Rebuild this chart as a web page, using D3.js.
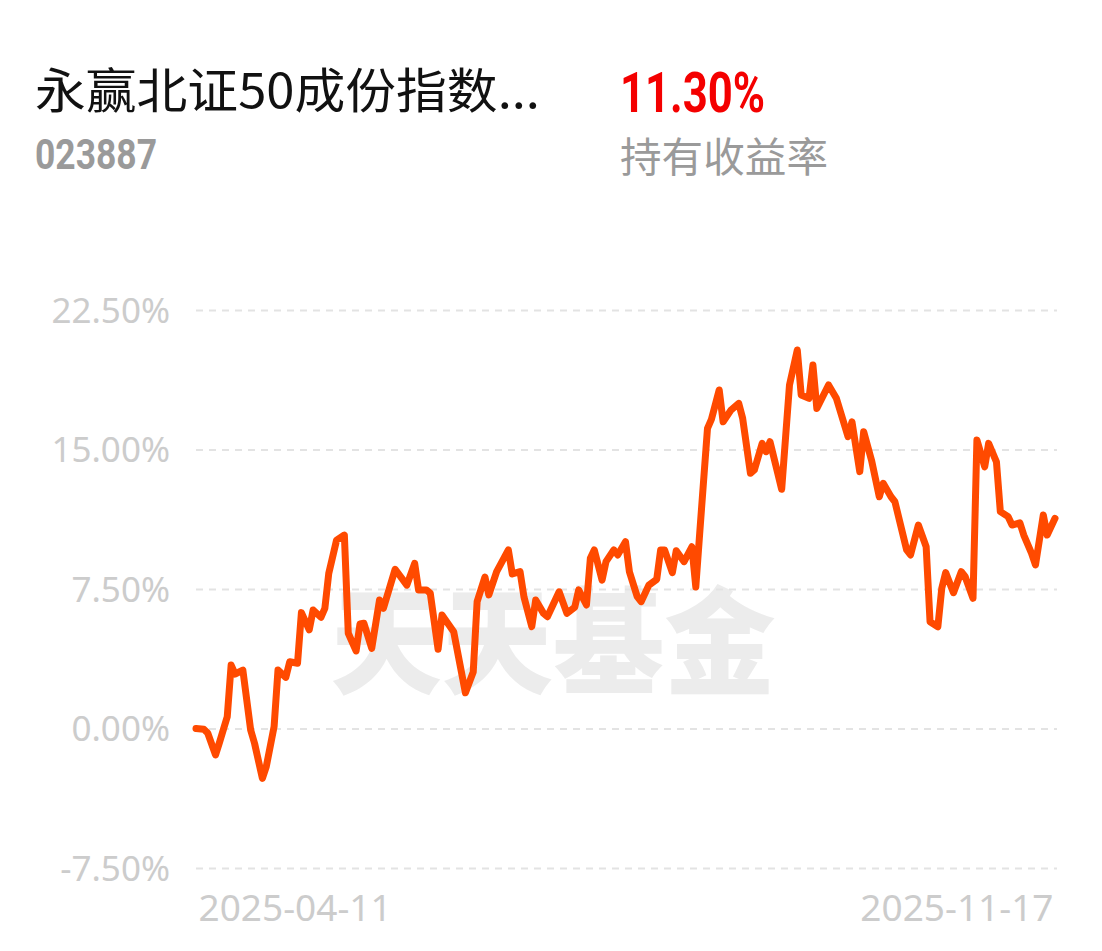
<!DOCTYPE html>
<html>
<head>
<meta charset="utf-8">
<script src="https://cdn.jsdelivr.net/npm/d3@7/dist/d3.min.js"></script>
<style>
  html, body { margin: 0; padding: 0; background: #ffffff; }
  svg { display: block; }
</style>
</head>
<body>
<div id="chart"></div>
<script>
// ---- data ----
const fundName = "永赢北证50成份指数...";
const fundCode = "023887";
const holdReturn = "11.30%";
const holdReturnLabel = "持有收益率";
const watermark = "天天基金";

const dates = [
  "2025-04-11","2025-04-13","2025-04-14","2025-04-16","2025-04-17","2025-04-19","2025-04-20","2025-04-21","2025-04-23","2025-04-25",
  "2025-04-26","2025-04-28","2025-04-29","2025-05-01","2025-05-02","2025-05-04","2025-05-05","2025-05-07","2025-05-08","2025-05-10",
  "2025-05-11","2025-05-13","2025-05-14","2025-05-15","2025-05-17","2025-05-19","2025-05-20","2025-05-22","2025-05-23","2025-05-24",
  "2025-05-26","2025-05-28","2025-05-29","2025-06-01","2025-06-04","2025-06-06","2025-06-07","2025-06-09","2025-06-10","2025-06-12",
  "2025-06-13","2025-06-16","2025-06-19","2025-06-21","2025-06-22","2025-06-24","2025-06-25","2025-06-27","2025-06-30","2025-07-01",
  "2025-07-03","2025-07-04","2025-07-06","2025-07-07","2025-07-09","2025-07-10","2025-07-13","2025-07-15","2025-07-17","2025-07-18",
  "2025-07-20","2025-07-21","2025-07-22","2025-07-24","2025-07-25","2025-07-27","2025-07-28","2025-07-30","2025-07-31","2025-08-02",
  "2025-08-03","2025-08-05","2025-08-07","2025-08-08","2025-08-09","2025-08-11","2025-08-12","2025-08-14","2025-08-16","2025-08-17",
  "2025-08-18","2025-08-20","2025-08-21","2025-08-23","2025-08-24","2025-08-26","2025-08-28","2025-08-29","2025-08-31","2025-09-01",
  "2025-09-03","2025-09-04","2025-09-05","2025-09-07","2025-09-08","2025-09-10","2025-09-12","2025-09-13","2025-09-15","2025-09-16",
  "2025-09-17","2025-09-20","2025-09-22","2025-09-25","2025-09-26","2025-09-28","2025-09-29","2025-10-01","2025-10-03","2025-10-04",
  "2025-10-06","2025-10-07","2025-10-10","2025-10-11","2025-10-13","2025-10-15","2025-10-16","2025-10-18","2025-10-19","2025-10-20",
  "2025-10-22","2025-10-24","2025-10-25","2025-10-27","2025-10-28","2025-10-30","2025-10-31","2025-11-02","2025-11-03","2025-11-05",
  "2025-11-06","2025-11-08","2025-11-09","2025-11-11","2025-11-12","2025-11-14","2025-11-15","2025-11-17"
];
const returns = [
  0.00,-0.04,-0.24,-1.42,-0.76,0.63,3.41,2.93,3.14,-0.08,
  -0.80,-2.68,-2.05,0.10,3.14,2.75,3.59,3.51,6.23,5.30,
  6.37,5.98,6.46,8.34,10.13,10.40,5.12,4.17,5.62,5.66,
  4.31,6.91,6.46,8.56,7.71,8.88,7.45,7.45,7.27,4.26,
  6.10,5.20,1.92,3.04,6.82,8.14,7.18,8.43,9.60,8.31,
  8.43,7.07,5.48,6.91,6.19,6.01,7.35,6.19,6.52,7.45,
  6.64,9.15,9.60,7.98,8.97,9.60,9.33,10.04,8.43,7.09,
  6.82,7.71,8.02,9.60,9.60,8.38,9.56,8.97,9.77,7.61,
  10.49,16.14,16.62,18.20,16.49,17.12,17.48,16.68,13.72,13.90,
  15.33,14.88,15.42,13.72,12.86,18.47,20.35,17.93,17.75,19.54,
  17.21,18.47,17.75,15.69,16.49,13.81,15.96,14.43,12.46,13.18,
  12.46,12.19,9.60,9.33,10.94,9.77,5.74,5.47,7.54,8.38,
  7.30,8.43,8.16,7.00,15.51,14.07,15.33,14.34,11.66,11.39,
  10.94,11.06,10.40,9.42,8.79,11.48,10.40,11.30
];
const yTicks = [-7.5, 0, 7.5, 15, 22.5];
const xTickLabels = ["2025-04-11", "2025-11-17"];

// ---- drawing ----
const W = 1102, H = 951;
const svg = d3.select("#chart").append("svg").attr("width", W).attr("height", H);

const parse = d3.timeParse("%Y-%m-%d");
const series = dates.map((d, i) => ({ date: parse(d), value: returns[i] }));

const x = d3.scaleTime()
  .domain(d3.extent(series, d => d.date))
  .range([196, 1055]);
const y = d3.scaleLinear()
  .domain([-7.5, 22.5])
  .range([868, 310]);

// header texts
svg.append("text")
  .attr("x", 35).attr("y", 108)
  .attr("font-family", "'Noto Sans CJK SC', 'Noto Sans', sans-serif")
  .attr("font-size", 48).attr("fill", "#111111")
  .attr("textLength", 505).attr("lengthAdjust", "spacingAndGlyphs")
  .text(fundName);

svg.append("text")
  .attr("x", 35).attr("y", 169)
  .attr("font-family", "Roboto, 'Noto Sans', sans-serif")
  .attr("font-weight", 700)
  .attr("font-size", 42).attr("fill", "#9a9a9a")
  .attr("textLength", 122).attr("lengthAdjust", "spacingAndGlyphs")
  .text(fundCode);

svg.append("text")
  .attr("x", 620).attr("y", 112)
  .attr("font-family", "Roboto, 'Noto Sans', sans-serif")
  .attr("font-weight", 700)
  .attr("font-size", 56).attr("fill", "#f40000")
  .attr("textLength", 145).attr("lengthAdjust", "spacingAndGlyphs")
  .text(holdReturn);

svg.append("text")
  .attr("x", 620).attr("y", 172)
  .attr("font-family", "'Noto Sans CJK SC', sans-serif")
  .attr("font-size", 41).attr("fill", "#9a9a9a")
  .attr("textLength", 208).attr("lengthAdjust", "spacingAndGlyphs")
  .text(holdReturnLabel);

// watermark
svg.append("text")
  .attr("x", 553).attr("y", 634)
  .attr("text-anchor", "middle")
  .attr("dominant-baseline", "central")
  .attr("font-family", "'Noto Sans CJK SC', sans-serif")
  .attr("font-weight", 900)
  .attr("font-size", 116).attr("fill", "#ececec")
  .attr("textLength", 445).attr("lengthAdjust", "spacingAndGlyphs")
  .text(watermark);

// y axis with dashed grid
const yAxis = d3.axisLeft(y)
  .tickValues(yTicks)
  .tickSize(-(1057 - 196))
  .tickPadding(26)
  .tickFormat(d => d3.format(".2f")(d).replace("\u2212", "-") + "%");

const gy = svg.append("g")
  .attr("transform", "translate(196,0)")
  .call(yAxis);
gy.select(".domain").remove();
gy.selectAll(".tick line")
  .attr("stroke", "#e3e3e3")
  .attr("stroke-width", 2)
  .attr("stroke-dasharray", "7,6");
gy.selectAll(".tick text")
  .attr("font-family", "'Noto Sans', sans-serif")
  .attr("font-size", 35)
  .attr("fill", "#cccccc")
  .attr("dy", "0.35em");

// x axis: first and last date labels
const xAxis = d3.axisBottom(x)
  .tickValues(xTickLabels.map(parse))
  .tickSize(0)
  .tickPadding(0)
  .tickFormat(d3.timeFormat("%Y-%m-%d"));
const gx = svg.append("g")
  .attr("transform", "translate(0,908)")
  .call(xAxis);
gx.select(".domain").remove();
gx.selectAll(".tick text")
  .attr("font-family", "'Noto Sans', sans-serif")
  .attr("font-size", 37)
  .attr("fill", "#cccccc")
  .attr("dy", "0.35em")
  .attr("text-anchor", (d, i) => i === 0 ? "start" : "end")
  .attr("dx", (d, i) => i === 0 ? 2 : -2);

// line
const line = d3.line()
  .x(d => x(d.date))
  .y(d => y(d.value));

svg.append("path")
  .datum(series)
  .attr("d", line)
  .attr("fill", "none")
  .attr("stroke", "#ff4a00")
  .attr("stroke-width", 7)
  .attr("stroke-linejoin", "round")
  .attr("stroke-linecap", "round");
</script>
</body>
</html>
